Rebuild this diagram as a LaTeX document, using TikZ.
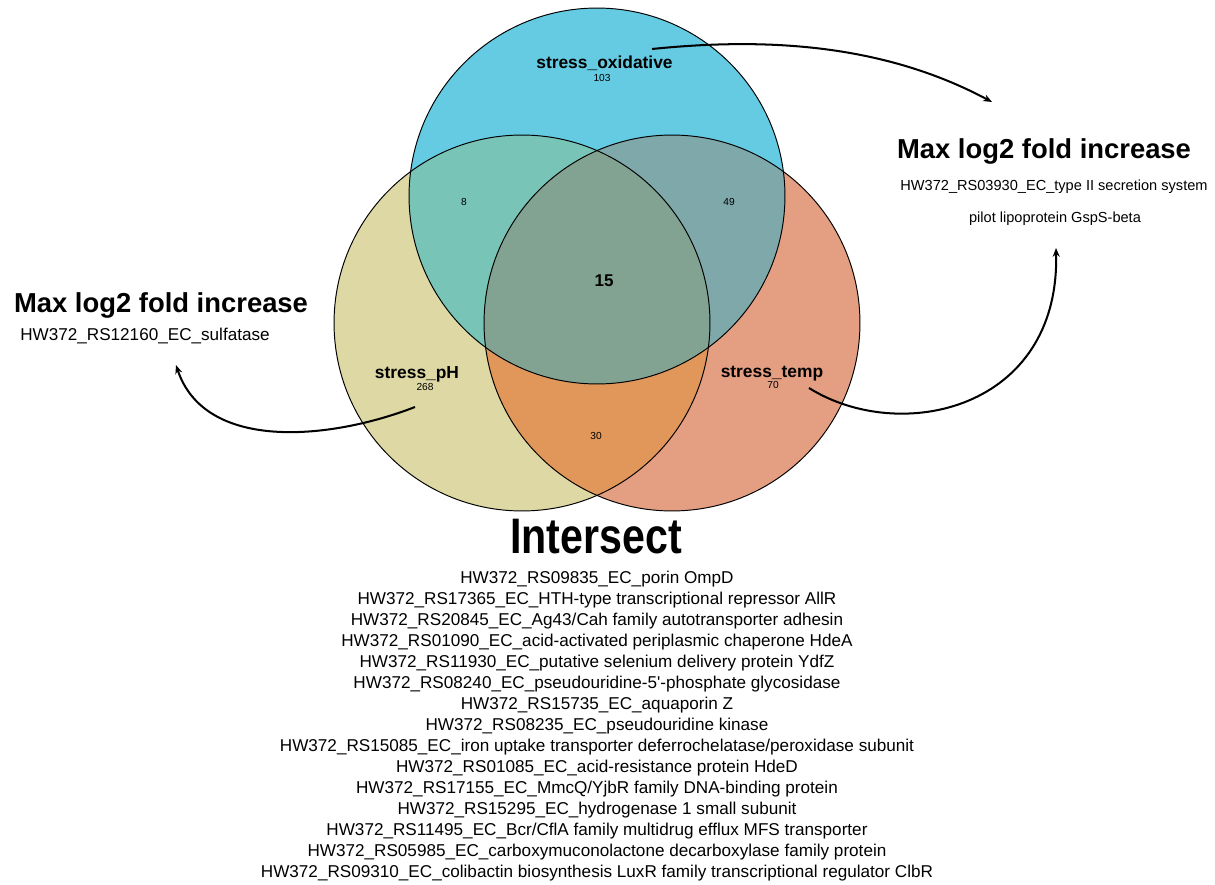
\documentclass[tikz,border=0pt]{standalone}
\usepackage{fontspec}
\setmainfont{Liberation Sans}
\newfontfamily\condfont[FakeStretch=0.825]{Liberation Sans}
\usetikzlibrary{arrows.meta}
\definecolor{Tc}{RGB}{100,203,227}
\definecolor{Lc}{RGB}{221,216,164}
\definecolor{Rc}{RGB}{228,159,130}
\definecolor{TLc}{RGB}{120,197,184}
\definecolor{TRc}{RGB}{126,168,170}
\definecolor{LRc}{RGB}{225,150,90}
\definecolor{Cc}{RGB}{131,163,146}
\begin{document}
\begin{tikzpicture}[x=0.02cm,y=-0.02cm,
  txt/.style={inner sep=0pt,anchor=base},
  setlabel/.style={txt,font=\fontsize{9.9}{11}\selectfont\bfseries},
  count/.style={txt,font=\fontsize{5.8}{7}\selectfont},
  bigcount/.style={txt,font=\fontsize{9.7}{11}\selectfont\bfseries},
  maxtitle/.style={txt,font=\fontsize{15.6}{18}\selectfont\bfseries},
  gene/.style={txt,font=\fontsize{9.75}{12}\selectfont},
  smallgene/.style={txt,font=\fontsize{8.3}{10}\selectfont},
  outline/.style={draw=black,line width=0.55pt},
  conn/.style={draw=black,line width=1.15pt,-{Stealth[length=5pt,width=4pt]}}]
\useasboundingbox (0,0) rectangle (1215,885);
\def\rad{3.76cm}
\coordinate (T) at (597,196);
\coordinate (L) at (522,323);
\coordinate (R) at (672,323);
% single-set fills
\fill[Lc] (L) circle[radius=\rad];
\fill[Rc] (R) circle[radius=\rad];
\fill[Tc] (T) circle[radius=\rad];
% pairwise overlaps
\begin{scope}
  \clip (L) circle[radius=\rad];
  \fill[LRc] (R) circle[radius=\rad];
  \fill[TLc] (T) circle[radius=\rad];
\end{scope}
\begin{scope}
  \clip (R) circle[radius=\rad];
  \fill[TRc] (T) circle[radius=\rad];
\end{scope}
\begin{scope}
  \clip (L) circle[radius=\rad];
  \clip (R) circle[radius=\rad];
  \fill[Cc] (T) circle[radius=\rad];
\end{scope}
% outlines
\draw[outline] (L) circle[radius=\rad];
\draw[outline] (R) circle[radius=\rad];
\draw[outline] (T) circle[radius=\rad];
% labels
\node[setlabel] (lox) at (604.5,69) {stress\_oxidative};
\node[count] (nox) at (602,82) {103};
\node[setlabel] (lph) at (417,379) {stress\_pH};
\node[count] (nph) at (425,391) {268};
\node[setlabel] (ltemp) at (772,378) {stress\_temp};
\node[count] (ntemp) at (773,388.5) {70};
\node[count] (n8) at (464,206) {8};
\node[count] (n49) at (729,206) {49};
\node[bigcount] (n15) at (604,287) {15};
\node[count] (n30) at (596,439.5) {30};
% side texts
\node[maxtitle] (maxR) at (1044,159) {Max log2 fold increase};
\node[smallgene] (gR1) at (1054,191) {HW372\_RS03930\_EC\_type II secretion system};
\node[smallgene] (gR2) at (1055,223) {pilot lipoprotein GspS-beta};
\node[maxtitle] (maxL) at (161,313) {Max log2 fold increase};
\node[gene] (gL) at (145,341) {HW372\_RS12160\_EC\_sulfatase};
% arrows
\coordinate (a1s) at (652,49);
\coordinate (a1e) at (992,102);
\coordinate (a2s) at (809,388);
\coordinate (a2e) at (1056,248);
\coordinate (a3s) at (415,407);
\coordinate (a3e) at (176,365);
\draw[conn] (a1s) .. controls (760,38) and (880,42) .. (a1e);
\draw[conn] (a2s) .. controls (900,445) and (1060,410) .. (a2e);
\draw[conn] (a3s) .. controls (330,440) and (205,452) .. (a3e);
% intersect list
\node[txt,font=\fontsize{28.4}{32}\selectfont\condfont\bfseries] (ititle) at (596,554) {Intersect};
\foreach \i/\t in {0/{HW372\_RS09835\_EC\_porin OmpD},
  1/{HW372\_RS17365\_EC\_HTH-type transcriptional repressor AllR},
  2/{HW372\_RS20845\_EC\_Ag43/Cah family autotransporter adhesin},
  3/{HW372\_RS01090\_EC\_acid-activated periplasmic chaperone HdeA},
  4/{HW372\_RS11930\_EC\_putative selenium delivery protein YdfZ},
  5/{HW372\_RS08240\_EC\_pseudouridine-5\textquotesingle-phosphate glycosidase},
  6/{HW372\_RS15735\_EC\_aquaporin Z},
  7/{HW372\_RS08235\_EC\_pseudouridine kinase},
  8/{HW372\_RS15085\_EC\_iron uptake transporter deferrochelatase/peroxidase subunit},
  9/{HW372\_RS01085\_EC\_acid-resistance protein HdeD},
  10/{HW372\_RS17155\_EC\_MmcQ/YjbR family DNA-binding protein},
  11/{HW372\_RS15295\_EC\_hydrogenase 1 small subunit},
  12/{HW372\_RS11495\_EC\_Bcr/CflA family multidrug efflux MFS transporter},
  13/{HW372\_RS05985\_EC\_carboxymuconolactone decarboxylase family protein},
  14/{HW372\_RS09310\_EC\_colibactin biosynthesis LuxR family transcriptional regulator ClbR}}
  \node[gene] (g\i) at (597,583+21.07*\i) {\t};
\end{tikzpicture}
\end{document}
